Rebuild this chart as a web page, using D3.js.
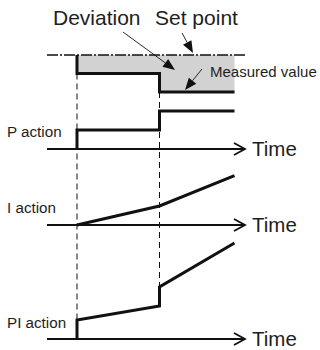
<!DOCTYPE html>
<html><head><meta charset="utf-8">
<script src="https://cdn.jsdelivr.net/npm/d3@7"></script>
<style>html,body{margin:0;padding:0;background:#fff}svg{display:block}text{font-family:"Liberation Sans",Arial,sans-serif;fill:#1e1e1e}</style>
</head><body>
<script>
// time of events and data (in arbitrary time units)
const eventTimes = [1, 3.75];
const stepTimes = [1, 1, 3.75, 3.75, 6.25];
const measuredDeviation = [0, 1, 1, 2, 2];
const pAction = [0, 1, 1, 2, 2];
const iTimes = [1, 3.75, 6.25];
const iAction = [0, 1, 2.6];
const piAction = [0, 1, 1.74, 2.74, 5.05];
const panelLabels = ["P action", "I action", "PI action"];
const axisLabel = "Time";

const W = 320, H = 350;
const svg = d3.select("body").append("svg").attr("width", W).attr("height", H);

const x = d3.scaleLinear().domain([0, 6.6]).range([47, 245]);
const yM = d3.scaleLinear().domain([0, 2]).range([55, 92]);
const yP = d3.scaleLinear().domain([0, 2]).range([149, 111]);
const yI = d3.scaleLinear().domain([0, 1]).range([225, 206]);
const yPI = d3.scaleLinear().domain([0, 1]).range([339, 320]);

const ink = "#111";
const line = (ys, ts) => d3.line().x((d, i) => x(ts[i])).y(d => ys(d));

// gray deviation area
const area = d3.area().x((d, i) => x(stepTimes[i])).y0(yM(0)).y1(d => yM(d));
svg.append("path").datum(measuredDeviation).attr("d", area).attr("fill", "#d2d2d2");

// set point dash-dot line
svg.append("line").attr("x1", x(0)).attr("x2", x(6.6)).attr("y1", yM(0)).attr("y2", yM(0))
  .attr("stroke", ink).attr("stroke-width", 1.6).attr("stroke-dasharray", "11,2,2,2");

// dashed event lines
const bottoms = [yPI(piAction[1]), yPI(piAction[3])];
const tops = [yM(measuredDeviation[1]), yM(measuredDeviation[3])];
eventTimes.forEach((t, i) => {
  svg.append("line").attr("x1", x(t)).attr("x2", x(t)).attr("y1", tops[i]).attr("y2", bottoms[i])
    .attr("stroke", ink).attr("stroke-width", 1).attr("stroke-dasharray", "6,4");
});

// measured value
svg.append("path").datum(measuredDeviation).attr("d", line(yM, stepTimes))
  .attr("fill", "none").attr("stroke", ink).attr("stroke-width", 3);

// axes
function timeAxis(y0) {
  svg.append("line").attr("x1", x(0)).attr("x2", x(6.6)).attr("y1", y0).attr("y2", y0)
    .attr("stroke", ink).attr("stroke-width", 1.8);
  svg.append("path").attr("d", `M${x(6.6) - 11},${y0 - 6}L${x(6.6)},${y0}L${x(6.6) - 11},${y0 + 6}`)
    .attr("fill", "none").attr("stroke", ink).attr("stroke-width", 1.8);
  svg.append("text").attr("x", 252).attr("y", y0 + 6.5).attr("font-size", 20.5)
    .attr("font-family", "Liberation Sans, Arial, sans-serif").text(axisLabel);
}
timeAxis(yP(0)); timeAxis(yI(0)); timeAxis(yPI(0));

svg.append("path").datum(pAction).attr("d", line(yP, stepTimes))
  .attr("fill", "none").attr("stroke", ink).attr("stroke-width", 3);
svg.append("path").datum(iAction).attr("d", line(yI, iTimes))
  .attr("fill", "none").attr("stroke", ink).attr("stroke-width", 3);
svg.append("path").datum(piAction).attr("d", line(yPI, stepTimes))
  .attr("fill", "none").attr("stroke", ink).attr("stroke-width", 3);

// labels
const labelY = [137, 213, 328];
panelLabels.forEach((l, i) => svg.append("text").attr("x", 7).attr("y", labelY[i]).attr("font-size", 15.2)
  .attr("font-family", "Liberation Sans, Arial, sans-serif").text(l));

svg.append("text").attr("x", 53).attr("y", 25).attr("font-size", 21).attr("font-family", "Liberation Sans, Arial, sans-serif").text("Deviation");
svg.append("text").attr("x", 155).attr("y", 25).attr("font-size", 21).attr("font-family", "Liberation Sans, Arial, sans-serif").text("Set point");
svg.append("text").attr("x", 210).attr("y", 77).attr("font-size", 15).attr("font-family", "Liberation Sans, Arial, sans-serif").text("Measured value");

// annotation arrows
function arrow(x1, y1, x2, y2) {
  const a = Math.atan2(y2 - y1, x2 - x1), L = 12, w = 4.8;
  const bx = x2 - L * Math.cos(a), by = y2 - L * Math.sin(a);
  svg.append("line").attr("x1", x1).attr("y1", y1).attr("x2", bx).attr("y2", by)
    .attr("stroke", ink).attr("stroke-width", 0.9);
  svg.append("path").attr("d", `M${x2},${y2}L${bx - w * Math.sin(a)},${by + w * Math.cos(a)}L${bx + w * Math.sin(a)},${by - w * Math.cos(a)}Z`)
    .attr("fill", ink);
}
arrow(123, 32, 175, 70);
arrow(182, 33, 193, 53);
arrow(202, 69, 185, 90);
</script>
</body></html>
